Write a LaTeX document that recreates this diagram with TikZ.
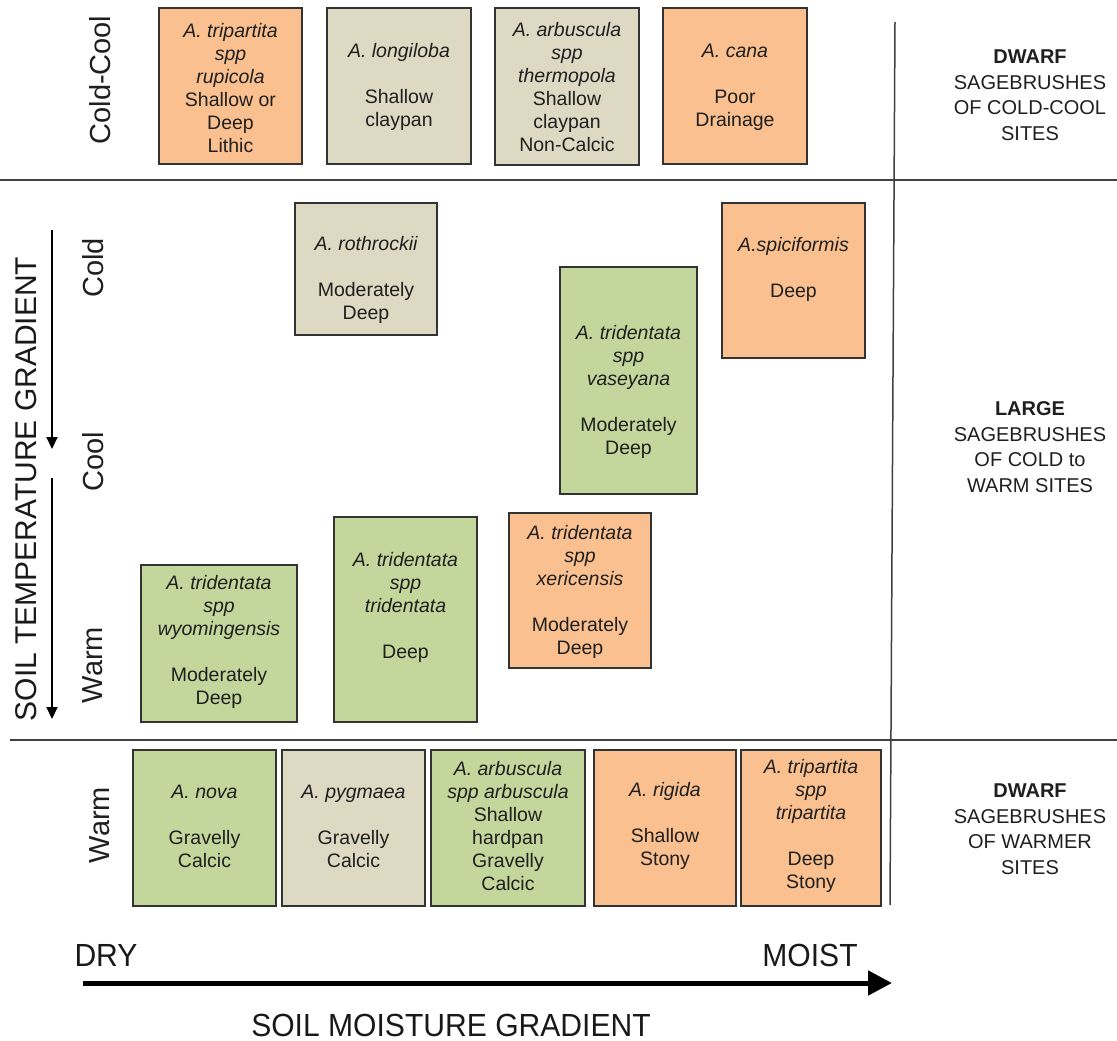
\documentclass[tikz,border=0pt]{standalone}
\usepackage{fontspec}
\setmainfont{Liberation Sans}
\usetikzlibrary{fit,arrows.meta}
\definecolor{orF}{HTML}{FAC090}
\definecolor{beF}{HTML}{DDD9C3}
\definecolor{grF}{HTML}{C3D69B}
\definecolor{lnC}{HTML}{404040}
\begin{document}
\begin{tikzpicture}[x=1pt,y=-1pt,
  pbox/.style={draw=black!80, line width=1.2pt, inner sep=0pt},
  ptxt/.style={align=center, font=\fontsize{19.5}{23}\selectfont, inner sep=0pt, text=black!88},
  rlab/.style={align=center, font=\fontsize{20}{25.5}\selectfont, inner sep=0pt, text=black!88},
  rowlab/.style={rotate=90, font=\fontsize{29}{34}\selectfont, inner sep=0pt, text=black!88},
  axlab/.style={font=\fontsize{32}{36}\selectfont, xscale=0.94, inner sep=0pt, text=black!90},
  sepline/.style={draw=lnC, line width=1.5pt}]
\useasboundingbox (0,0) rectangle (1117,1041);

% separators
\coordinate (h1a) at (0,180);   \coordinate (h1b) at (1117,180);
\coordinate (h2a) at (10,740);  \coordinate (h2b) at (1117,740);
\coordinate (v1a) at (895,22);  \coordinate (v1b) at (890,905);
\draw[sepline] (h1a) -- (h1b);
\draw[sepline] (h2a) -- (h2b);
\draw[sepline] (v1a) -- (v1b);

% top row
\node[pbox, fill=orF, fit={(159,8) (302,164)}] (rup) {};
\node[ptxt] (rupT) at (230.5,88) {\itshape A. tripartita\\\itshape spp\\\itshape rupicola\\Shallow or\\Deep\\Lithic};
\node[pbox, fill=beF, fit={(327,8) (471,164)}] (lon) {};
\node[ptxt] (lonT) at (399,87) {\itshape A. longiloba\\[23pt]Shallow\\claypan};
\node[pbox, fill=beF, fit={(495,8) (639,165)}] (the) {};
\node[ptxt] (theT) at (567,87) {\itshape A. arbuscula\\\itshape spp\\\itshape thermopola\\Shallow\\claypan\\Non-Calcic};
\node[pbox, fill=orF, fit={(663,8) (807,164)}] (can) {};
\node[ptxt] (canT) at (735,87) {\itshape A. cana\\[23pt]Poor\\Drainage};

% middle
\node[pbox, fill=beF, fit={(295,203) (437,335)}] (rot) {};
\node[ptxt] (rotT) at (366,280) {\itshape A. rothrockii\\[23pt]Moderately\\Deep};
\node[pbox, fill=orF, fit={(722,203) (865,358)}] (spi) {};
\node[ptxt] (spiT) at (793.5,269) {\itshape A.spiciformis\\[23pt]Deep};
\node[pbox, fill=grF, fit={(560,267) (697,494)}] (vas) {};
\node[ptxt] (vasT) at (628.5,392) {\itshape A. tridentata\\\itshape spp\\\itshape vaseyana\\[23pt]Moderately\\Deep};
\node[pbox, fill=orF, fit={(509,513) (651,668)}] (xer) {};
\node[ptxt] (xerT) at (580,592) {\itshape A. tridentata\\\itshape spp\\\itshape xericensis\\[23pt]Moderately\\Deep};
\node[pbox, fill=grF, fit={(334,517) (477,722)}] (tri) {};
\node[ptxt] (triT) at (405.5,607) {\itshape A. tridentata\\\itshape spp\\\itshape tridentata\\[23pt]Deep};
\node[pbox, fill=grF, fit={(141,565) (297,722)}] (wyo) {};
\node[ptxt] (wyoT) at (219,642) {\itshape A. tridentata\\\itshape spp\\\itshape wyomingensis\\[23pt]Moderately\\Deep};

% bottom row
\node[pbox, fill=grF, fit={(133,750) (276,906)}] (nov) {};
\node[ptxt] (novT) at (204.5,826) {\itshape A. nova\\[23pt]Gravelly\\Calcic};
\node[pbox, fill=beF, fit={(282,750) (425,906)}] (pyg) {};
\node[ptxt] (pygT) at (353.5,826) {\itshape A. pygmaea\\[23pt]Gravelly\\Calcic};
\node[pbox, fill=grF, fit={(431,750) (585,906)}] (arb) {};
\node[ptxt] (arbT) at (508,826) {\itshape A. arbuscula\\\itshape spp arbuscula\\Shallow\\hardpan\\Gravelly\\Calcic};
\node[pbox, fill=orF, fit={(594,750) (736,906)}] (rig) {};
\node[ptxt] (rigT) at (665,826) {\itshape A. rigida\\[23pt]Shallow\\Stony};
\node[pbox, fill=orF, fit={(741,750) (881,906)}] (trp) {};
\node[ptxt] (trpT) at (811,826) {\itshape A. tripartita\\\itshape spp\\\itshape tripartita\\[23pt]Deep\\Stony};

% right labels
\node[rlab] (r1) at (1030,95) {\textbf{DWARF}\\SAGEBRUSHES\\OF COLD-COOL\\SITES};
\node[rlab] (r2) at (1030,447) {\textbf{LARGE}\\SAGEBRUSHES\\OF COLD to\\WARM SITES};
\node[rlab] (r3) at (1030,829) {\textbf{DWARF}\\SAGEBRUSHES\\OF WARMER\\SITES};

% row labels
\node[rowlab] (lcc) at (100,80) {Cold-Cool};
\node[rowlab] (lcd) at (93,268) {Cold};
\node[rowlab] (lco) at (93,462) {Cool};
\node[rowlab] (lwm) at (93,665) {Warm};
\node[rowlab] (lwb) at (100,825) {Warm};

% temperature gradient
\node[rotate=90, font=\fontsize{30}{34}\selectfont, inner sep=0pt, text=black!90] (tg) at (26,489) {SOIL TEMPERATURE GRADIENT};
\coordinate (ta1) at (52,230); \coordinate (ta2) at (52,449);
\coordinate (tb1) at (52,478); \coordinate (tb2) at (52,719);
\draw[line width=2pt, -{Triangle[length=12pt,width=11pt]}] (ta1) -- (ta2);
\draw[line width=2pt, -{Triangle[length=12pt,width=11pt]}] (tb1) -- (tb2);

% moisture gradient
\node[axlab] (dry) at (106,955) {DRY};
\node[axlab] (moi) at (810,955) {MOIST};
\node[axlab] (mg) at (451,1025) {SOIL MOISTURE GRADIENT};
\coordinate (ma1) at (83,983); \coordinate (ma2) at (892,983);
\draw[line width=5pt, -{Triangle[length=24pt,width=24pt]}] (ma1) -- (ma2);
\end{tikzpicture}
\end{document}
